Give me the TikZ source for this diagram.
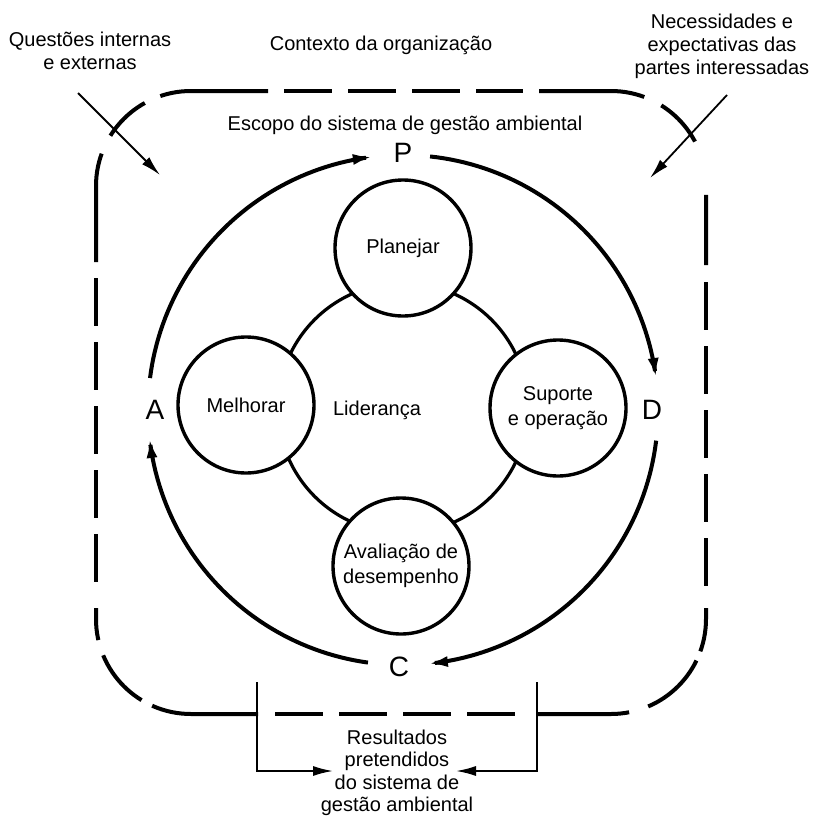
\documentclass[tikz,border=0pt]{standalone}
\usepackage{fontspec}
\setmainfont{Liberation Sans}
\usetikzlibrary{arrows.meta}

\tikzset{
  txt/.style={font=\fontsize{10}{11.5}\selectfont, align=center, inner sep=1pt},
  pdca/.style={font=\fontsize{14}{14}\selectfont, inner sep=1pt},
  sat/.style={circle, draw, line width=1.7pt, fill=white, minimum size=68pt, inner sep=0pt,
    font=\fontsize{10}{12.5}\selectfont, align=center},
  cyc/.style={line width=2pt, -{Latex[length=10pt,width=5.5pt]}},
  inarrow/.style={line width=0.9pt, -{Latex[length=10pt,width=5pt]}},
  scopeline/.style={line width=2pt},
  scopedash/.style={line width=2pt, dash pattern=on 24pt off 8pt}
}

\begin{document}
\begin{tikzpicture}[x=0.5pt, y=-0.5pt]
  \useasboundingbox (0,0) rectangle (813,819);

  % context and scope: corners nearly solid, sides dashed
  \draw[scopeline, dash pattern=on 54.5pt off 10pt on 24pt off 8.5pt on 100pt]
    (96,262) -- (96,186) arc[start angle=180, end angle=90, radius=47.5pt] -- (268,91);
  \draw[scopeline, dash pattern=on 53pt off 9.5pt on 25pt off 27.5pt on 40pt]
    (539,91) -- (611,91) arc[start angle=90, end angle=0, radius=47.5pt] -- (706,265);
  \draw[scopeline, dash pattern=on 22pt off 5pt on 34pt off 10pt on 100pt]
    (706,608) -- (706,619) arc[start angle=0, end angle=-90, radius=47.5pt] -- (537,714);
  \draw[scopeline, dash pattern=on 53.5pt off 6pt on 30pt off 8pt on 50pt]
    (258,714) -- (191,714) arc[start angle=-90, end angle=-180, radius=47.5pt] -- (96,608);
  \draw[scopedash] (284,91) -- (523,91);
  \draw[scopedash] (706,282) -- (706,592);
  \draw[scopedash] (275,714) -- (515,714);
  \draw[scopedash] (96,278) -- (96,592);

  \node[txt] (quest) at (90,51) {Questões internas\\e externas};
  \node[txt] (ctx) at (381,45) {Contexto da organização};
  \node[txt] (need) at (722,46) {Necessidades e\\expectativas das\\partes interessadas};
  \node[txt] (scope) at (405,125) {Escopo do sistema de gestão ambiental};

  \coordinate (q1) at (78,93);
  \coordinate (q2) at (160,175);
  \coordinate (n1) at (727,95);
  \coordinate (n2) at (650,178);
  \draw[inarrow] (q1) -- (q2);
  \draw[inarrow] (n1) -- (n2);

  % PDCA cycle
  \node[pdca] (P) at (403,153) {P};
  \node[pdca] (D) at (652,410) {D};
  \node[pdca] (C) at (399,667) {C};
  \node[pdca] (A) at (155,410) {A};

  \draw[cyc] plot[domain=172.8:96.8, samples=50] ({403+255*cos(\x)}, {410-255*sin(\x)});
  \draw[cyc] plot[domain=83.9:7.2, samples=50] ({403+255*cos(\x)}, {410-255*sin(\x)});
  \draw[cyc] plot[domain=-6.9:-84.4, samples=50] ({403+255*cos(\x)}, {410-255*sin(\x)});
  \draw[cyc] plot[domain=-97.9:-173.7, samples=50] ({403+255*cos(\x)}, {410-255*sin(\x)});

  % leadership and the four steps
  \draw[line width=1.6pt] (403,408) circle [radius=62.5pt];
  \node[txt] (lid) at (377,410) {Liderança};
  \node[sat] (plan) at (403,248) {Planejar};
  \node[sat] (sup) at (558,408) {Suporte\\e operação};
  \node[sat] (aval) at (401,566) {Avaliação de\\desempenho};
  \node[sat] (melh) at (246,405) {Melhorar};

  % intended outcomes
  \node[txt, font=\fontsize{10}{11.2}\selectfont] (res) at (397,773) {Resultados\\pretendidos\\do sistema de\\gestão ambiental};
  \coordinate (r1) at (257,682);
  \coordinate (r2) at (333,771);
  \coordinate (r3) at (537,682);
  \coordinate (r4) at (456,771);
  \draw[inarrow] (r1) |- (r2);
  \draw[inarrow] (r3) |- (r4);
\end{tikzpicture}
\end{document}
